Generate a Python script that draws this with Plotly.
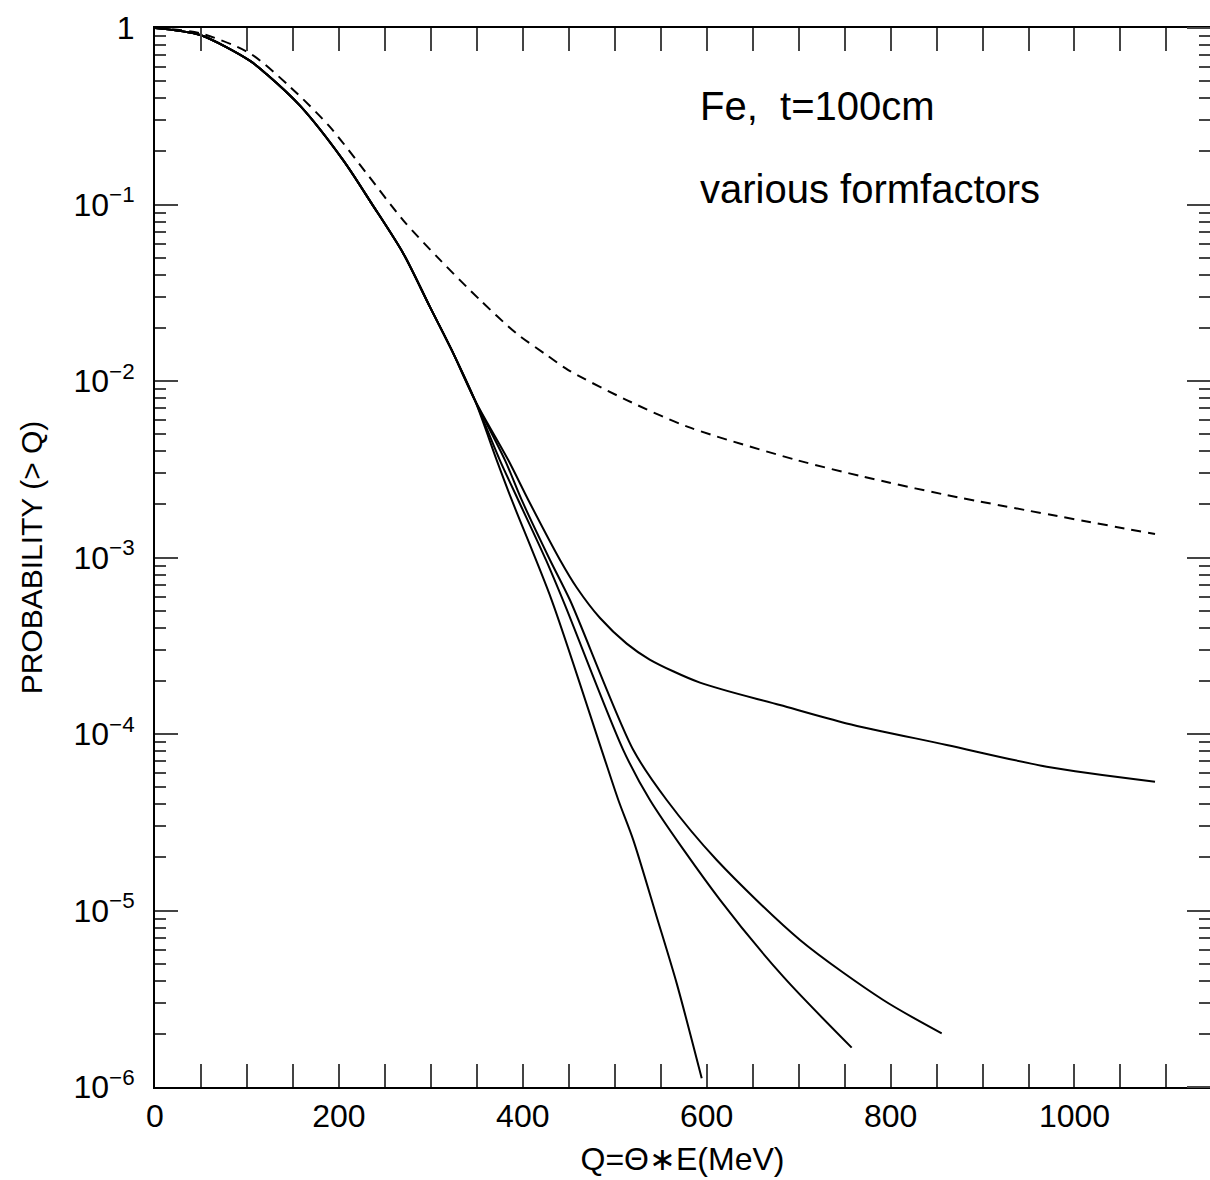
import plotly.graph_objects as go

# ---- data (Q in MeV, log10 of probability) ----
q_s1 = [0, 49, 103, 121.5, 157.7, 204.8, 235.7, 270, 299, 322.6, 348, 371.6, 388, 431.4, 485.8, 503.9, 520.2, 545.6, 567.4, 594.6]
lg_s1 = [0, -0.04, -0.185, -0.262, -0.44, -0.75, -0.995, -1.277, -1.58, -1.824, -2.11, -2.448, -2.674, -3.241, -4.091, -4.374, -4.601, -5.035, -5.413, -5.951]

q_s2 = [0, 49, 103, 121.5, 157.7, 204.8, 235.7, 270, 299, 322.6, 348, 375, 395, 425.2, 445.9, 509.3, 538.3, 614.5, 683.3, 757.7]
lg_s2 = [0, -0.04, -0.185, -0.262, -0.44, -0.75, -0.995, -1.277, -1.58, -1.824, -2.11, -2.448, -2.674, -3.014, -3.27, -4.091, -4.374, -4.94, -5.375, -5.777]

q_s3 = [0, 49, 103, 121.5, 157.7, 204.8, 235.7, 270, 299, 322.6, 348, 380.6, 398.8, 429.6, 451.3, 520.2, 556.5, 610.9, 701.5, 792, 855.6]
lg_s3 = [0, -0.04, -0.185, -0.262, -0.44, -0.75, -0.995, -1.277, -1.58, -1.824, -2.11, -2.448, -2.674, -3.014, -3.241, -4.091, -4.374, -4.714, -5.167, -5.507, -5.696]

q_s4 = [0, 49, 103, 121.5, 157.7, 204.8, 235.7, 270, 299, 322.6, 348, 384.2, 406, 440.5, 458.6, 484, 513, 538, 592.7, 679.7, 752.2, 861, 969.8, 1087.6]
lg_s4 = [0, -0.04, -0.185, -0.262, -0.44, -0.75, -0.995, -1.277, -1.58, -1.824, -2.11, -2.448, -2.674, -3.014, -3.17, -3.343, -3.488, -3.578, -3.709, -3.836, -3.94, -4.062, -4.185, -4.27]

q_dash = [0, 49, 103, 146.8, 190, 230, 270, 310, 353.5, 393, 426, 449.5, 513, 579.7, 698, 770.3, 861, 1087.6]
lg_dash = [0, -0.03, -0.143, -0.333, -0.559, -0.823, -1.09, -1.314, -1.541, -1.73, -1.853, -1.938, -2.108, -2.26, -2.448, -2.542, -2.646, -2.867]

x_ticks = [0, 200, 400, 600, 800, 1000]
y_exps = [-6, -5, -4, -3, -2, -1, 0]
y_ticktext = ["10<sup>\u22126</sup>", "10<sup>\u22125</sup>", "10<sup>\u22124</sup>",
              "10<sup>\u22123</sup>", "10<sup>\u22122</sup>", "10<sup>\u22121</sup>", "1"]

FONT = "Liberation Sans, Arial, sans-serif"
TICKC = "#444"

fig = go.Figure()
solid = [(q_s1, lg_s1), (q_s2, lg_s2), (q_s3, lg_s3), (q_s4, lg_s4)]
for q, lg in solid:
    fig.add_trace(go.Scatter(x=q, y=[10 ** v for v in lg], mode="lines",
                             line=dict(color="black", width=2, shape="spline", smoothing=0.8),
                             showlegend=False, hoverinfo="skip"))
# dashed curve drawn on the (identical) right-hand log axis so that axis is rendered
fig.add_trace(go.Scatter(x=q_dash, y=[10 ** v for v in lg_dash], mode="lines", yaxis="y2",
                         line=dict(color="black", width=2, dash="10px,7px", shape="spline", smoothing=0.8),
                         showlegend=False, hoverinfo="skip"))

y_tickvals = [10.0 ** e for e in y_exps]
y_minor = [k * 10.0 ** e for e in y_exps[:-1] for k in range(2, 10)]

fig.update_layout(
    xaxis=dict(
        range=[0, 1147.4], showgrid=False, zeroline=False, automargin=False,
        showline=True, linecolor="black", linewidth=2, mirror="allticks",
        ticks="inside", ticklen=23, tickwidth=1.5, tickcolor=TICKC,
        tickvals=x_ticks, ticktext=[str(v) for v in x_ticks],
        minor=dict(ticks="inside", ticklen=12, tickwidth=1.5, tickcolor=TICKC, dtick=50, tick0=0, showgrid=False),
        tickfont=dict(family=FONT, size=32, color="black"),
        ticklabelstandoff=0,
        title=dict(text="Q=\u0398\u2217E(MeV)", font=dict(family=FONT, size=32, color="black"), standoff=14),
    ),
    yaxis=dict(
        type="log", range=[-6, 0], showgrid=False, zeroline=False, automargin=False,
        showline=True, linecolor="black", linewidth=2, mirror=False,
        ticks="inside", ticklen=23, tickwidth=1.5, tickcolor=TICKC,
        tickvals=y_tickvals, ticktext=y_ticktext,
        minor=dict(ticks="inside", ticklen=11, tickwidth=1.5, tickcolor=TICKC, tickvals=y_minor, showgrid=False),
        tickfont=dict(family=FONT, size=32, color="black"),
        ticklabelstandoff=12,
        title=dict(text="PROBABILITY (> Q)", font=dict(family=FONT, size=30, color="black"), standoff=22),
    ),
    # right-hand frame ticks: a left-sided axis placed at the right edge, ticks pointing outward = into the plot
    yaxis2=dict(
        type="log", range=[-6, 0], overlaying="y", side="left", anchor="free", position=1.0,
        showgrid=False, zeroline=False, automargin=False, showline=False,
        ticks="outside", ticklen=23, tickwidth=1.5, tickcolor=TICKC,
        tickvals=y_tickvals, showticklabels=False,
        minor=dict(ticks="outside", ticklen=11, tickwidth=1.5, tickcolor=TICKC, tickvals=y_minor, showgrid=False),
    ),
)

fig.add_annotation(text="Fe,  t=100cm", xref="paper", yref="paper", x=0.5147, y=0.9259,
                   xanchor="left", yanchor="middle", showarrow=False,
                   font=dict(family=FONT, size=40, color="black"))
fig.add_annotation(text="various formfactors", xref="paper", yref="paper", x=0.5147, y=0.848,
                   xanchor="left", yanchor="middle", showarrow=False,
                   font=dict(family=FONT, size=40, color="black"))

fig.update_layout(
    width=1210, height=1180,
    margin=dict(l=155, r=0, t=28, b=93),
    paper_bgcolor="white", plot_bgcolor="white",
    font=dict(family=FONT, color="black"),
)

fig.write_html("out.html", config={"displayModeBar": False},
               post_script="document.body.style.margin='0';document.body.style.overflow='hidden';")
